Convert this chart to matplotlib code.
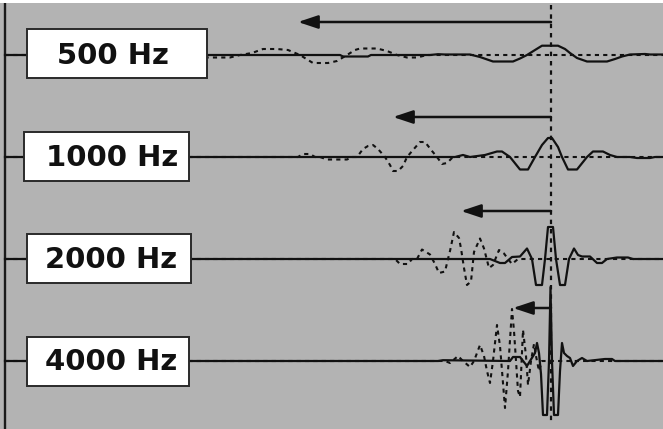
import numpy as np
import matplotlib.pyplot as plt
from matplotlib.patches import Rectangle

# row labels
labels = ['500 Hz', '1000 Hz', '2000 Hz', '4000 Hz']

# reference instant (dotted line) and where each delay arrow ends
onset = 551
arrow_tips = [298, 393, 461, 513]

# 500 Hz traces (sample position, amplitude)
x500_solid = [5, 340, 343, 368, 371, 430, 438, 445, 470, 480, 493, 513, 520, 527, 535, 542,
              558, 565, 570, 577, 587, 607, 615, 622, 630, 645, 650, 663]
a500_solid = [0, 0, -1.5, -1.5, 0, 0, 0.8, 0.5, 0.5, -2, -6.5, -6.5, -3.5, 0, 5, 9.3,
              9.3, 6, 2, -3, -6.5, -6.5, -4, -1.5, 0.5, 1, 0.5, 0.5]
x500_dash = [5, 200, 207, 230, 240, 252, 263, 277, 288, 300, 308, 313, 328, 337, 347, 355,
             360, 377, 387, 397, 407, 417, 427, 663]
a500_dash = [0, 0, -2.5, -2.5, 0, 2, 6, 6, 5, 0, -5, -8, -8, -6, 0, 5,
             6.5, 6.5, 4, 0, -2.5, -2.5, 0, 0]

# 1000 Hz traces
x1000_solid = [5, 455, 463, 470, 485, 497, 502, 510, 520, 528, 535, 542, 548, 552, 558, 562,
               568, 577, 583, 587, 593, 603, 610, 617, 630, 637, 650, 655, 663]
a1000_solid = [0, 0, 2, 0, 2, 5.5, 5.5, 0, -12.5, -12.5, 0, 12, 19, 19, 10, 0,
               -12.5, -12.5, -5, 0, 5.5, 5.5, 2, 0, 0, -1, -1, 0, 0]
x1000_dash = [5, 298, 303, 310, 315, 320, 327, 347, 352, 357, 363, 368, 373, 378, 385, 390,
              393, 398, 403, 407, 413, 420, 425, 432, 437, 442, 447, 453, 663]
a1000_dash = [0, 0, 3, 3, 0, 0, -2.5, -2.5, 0, 0, 8, 11, 12, 8, 0, -8,
              -14, -14, -9, 0, 7, 15, 15, 6, 0, -7, -6, 0, 0]

# 2000 Hz traces
x2000_solid = [5, 490, 495, 500, 505, 512, 520, 527, 532, 536, 542, 545, 548, 553, 556, 560,
               565, 569, 574, 578, 582, 590, 597, 602, 607, 617, 628, 633, 663]
a2000_solid = [0, 0, -2, -4, -4, 2, 2.5, 10.5, 0, -26, -26, 0, 32, 32, 0, -26,
               -26, 0, 10.5, 4, 2.5, 2.5, -4, -4, 0, 1.5, 1.5, 0, 0]
x2000_dash = [5, 395, 400, 408, 412, 417, 422, 430, 435, 439, 445, 448, 450, 454, 459, 461,
              464, 467, 471, 474, 480, 484, 489, 493, 499, 504, 508, 512, 518, 663]
a2000_dash = [0, 0, -5, -5, 0, 0, 9.5, 4.5, -5, -14, -12.5, 0, 8, 27, 21, 10.5,
              -9, -26, -22.5, 7, 20.5, 10.5, -9, -6, 9, 5.5, 0, -5, 0, 0]

# 4000 Hz traces
x4000_solid = [5, 438, 443, 510, 513, 520, 527, 530, 535, 537, 539, 541, 543, 547, 549, 550.5,
               552, 554, 558, 560, 562, 564, 567, 570, 573, 577, 582, 587, 605, 612, 615, 663]
a4000_solid = [0, 0, 0.8, 0, 4, 4, -5, 0, 8, 18, 8, -13, -54, -54, 0, 74,
               0, -54, -54, -10, 18, 8, 5, 3, -5, 0, 3, 0, 2, 2, 0, 0]
x4000_dash = [5, 445, 450, 458, 463, 470, 474, 480, 484, 487, 490, 493, 497, 500, 505, 508,
              512, 514, 518, 520, 523, 526, 528, 531, 534, 536, 539, 542, 663]
a4000_dash = [0, 0, -2, 5, 0, -6, 0, 16, 5, -10, -22, 0, 36, 15, -47, -10,
              52, 30, -30, -36, 31, 5, -24, 0, 17, 5, -10, 0, 0]

solid = [(x500_solid, a500_solid), (x1000_solid, a1000_solid),
         (x2000_solid, a2000_solid), (x4000_solid, a4000_solid)]
dashed = [(x500_dash, a500_dash), (x1000_dash, a1000_dash),
          (x2000_dash, a2000_dash), (x4000_dash, a4000_dash)]

# layout
base0, spacing = 55, 102
arrow_y = [22, 117, 211, 308]
boxes = [(27, 29, 180, 49), (24, 132, 165, 49), (27, 234, 164, 49), (27, 337, 162, 49)]
text_x = [57, 46, 45, 45]

ink = '#111111'

fig = plt.figure(figsize=(6.63, 4.29), dpi=100)
fig.patch.set_facecolor('white')
ax = fig.add_axes([0, 0, 1, 426 / 429])
ax.set_facecolor('#b3b3b3')
ax.set_xlim(0, 663)
ax.set_ylim(429, 3)
for s in ax.spines.values():
    s.set_visible(False)
ax.set_xticks([])
ax.set_yticks([])

ax.axvline(5, color='#1a1a1a', lw=1.7)

for i in range(4):
    base = base0 + i * spacing
    xs, amp = dashed[i]
    ax.plot(xs, base - np.array(amp), color=ink, lw=1.5, dashes=(2, 2), zorder=2)
    xs, amp = solid[i]
    ax.plot(xs, base - np.array(amp), color=ink, lw=1.6, zorder=3)

    bx, by, bw, bh = boxes[i]
    ax.add_patch(Rectangle((bx, by), bw, bh, facecolor='white', edgecolor='#2a2a2a',
                           lw=1.4, zorder=5))
    ax.text(text_x[i], base + 9.5, labels[i], fontsize=21, fontweight='bold',
            family='DejaVu Sans', color=ink, ha='left', va='baseline', zorder=6)

    ax.annotate('', xy=(arrow_tips[i], arrow_y[i]), xytext=(onset, arrow_y[i]),
                arrowprops=dict(arrowstyle='-|>,head_length=1.2,head_width=0.4',
                                color=ink, lw=1.8, shrinkA=0, shrinkB=0), zorder=4)

# dotted reference line
ax.plot([onset, onset], [5, 425], color=ink, lw=1.6, dashes=(2, 2.2), zorder=4)

fig.savefig('out.png', dpi=100)
